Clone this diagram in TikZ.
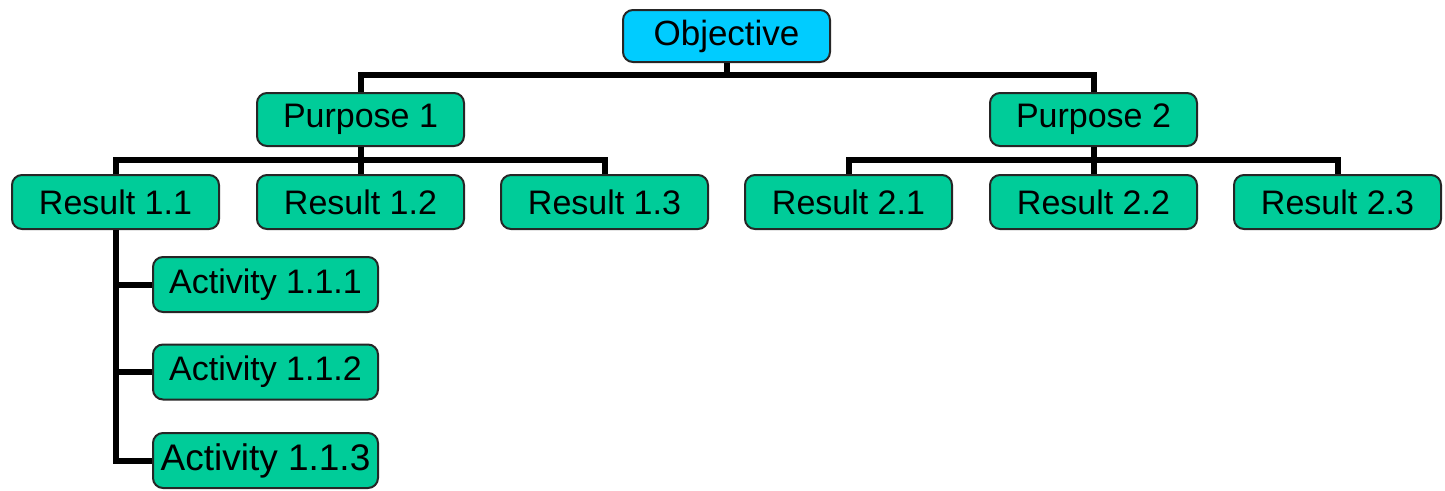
\documentclass[tikz,border=0pt]{standalone}
\usepackage{fontspec}
\setmainfont{Liberation Sans}
\definecolor{boxgreen}{HTML}{00CC99}
\definecolor{boxcyan}{HTML}{00CCFF}
\begin{document}
\begin{tikzpicture}[x=1pt,y=-1pt,
  box/.style={draw=black!85, line width=2pt, rounded corners=10pt, fill=boxgreen,
    minimum width=207pt, minimum height=54pt, inner sep=0pt,
    font=\fontsize{34}{38}\selectfont},
  actbox/.style={box, minimum width=225pt, minimum height=55pt},
  conn/.style={line width=6pt, draw=black}]
\useasboundingbox (0,0) rectangle (1445,490);
% nodes
\node[box, fill=boxcyan, minimum height=52pt, font=\fontsize{35}{40}\selectfont] (obj) at (726.5,36) {Objective};
\node[box, minimum height=53pt] (p1) at (360.5,119.5) {Purpose 1};
\node[box, minimum height=53pt] (p2) at (1093.5,119.5) {Purpose 2};
\node[box] (r11) at (115.5,202) {Result 1.1};
\node[box] (r12) at (360.5,202) {Result 1.2};
\node[box] (r13) at (604.5,202) {Result 1.3};
\node[box] (r21) at (848.5,202) {Result 2.1};
\node[box] (r22) at (1093.5,202) {Result 2.2};
\node[box] (r23) at (1337.5,202) {Result 2.3};
\node[actbox] (a1) at (265.5,284.5) {Activity 1.1.1};
\node[actbox] (a2) at (265.5,372) {Activity 1.1.2};
\node[actbox, font=\fontsize{37}{42}\selectfont] (a3) at (265.5,460.5) {Activity 1.1.3};
% bus coordinates
\coordinate (b0) at (726.5,75);
\coordinate (b1) at (360.5,160);
\coordinate (b2) at (1093.5,160);
% connectors
\draw[conn] (obj.south) -- (b0);
\draw[conn] (p1.north) |- (b0) -| (p2.north);
\draw[conn] (p1.south) -- (b1);
\draw[conn] (r11.north) |- (b1) -| (r13.north);
\draw[conn] (r12.north) -- (b1);
\draw[conn] (p2.south) -- (b2);
\draw[conn] (r21.north) |- (b2) -| (r23.north);
\draw[conn] (r22.north) -- (b2);
\draw[conn] (r11.south) |- (a3.west);
\draw[conn] (a1.west) -- (a1.west -| r11.south);
\draw[conn] (a2.west) -- (a2.west -| r11.south);
\end{tikzpicture}
\end{document}
